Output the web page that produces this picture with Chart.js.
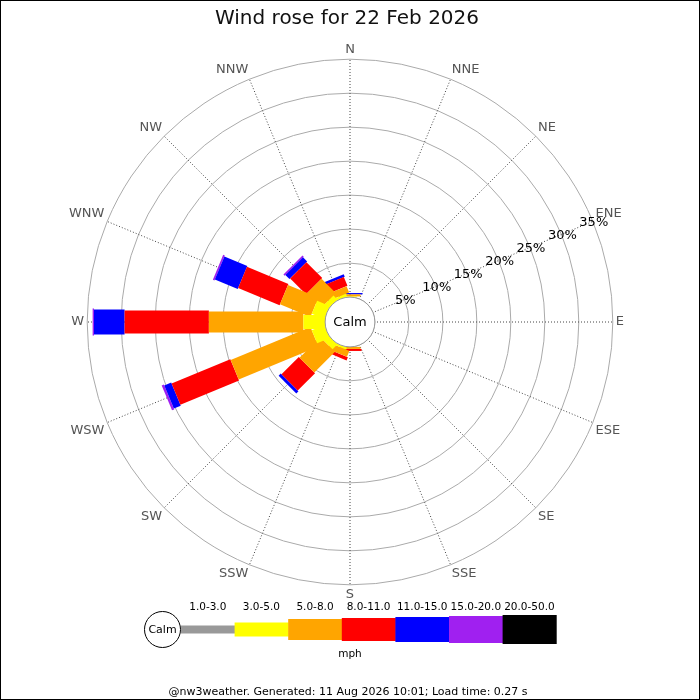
<!DOCTYPE html>
<html>
<head>
<meta charset="utf-8">
<script src="https://cdn.jsdelivr.net/npm/chart.js@4.4.1/dist/chart.umd.min.js"></script>
<style>
html,body{margin:0;padding:0;background:#fff;}
canvas{display:block;}
</style>
</head>
<body>
<canvas id="c" width="700" height="700"></canvas>
<script>
// ---- data ----
const directions = ['N','NNE','NE','ENE','E','ESE','SE','SSE','S','SSW','SW','WSW','W','WNW','NW','NNW'];
const speedClasses = ['1.0-3.0','3.0-5.0','5.0-8.0','8.0-11.0','11.0-15.0','15.0-20.0','20.0-50.0'];
// percentage of time per direction, per speed class (mph)
const speed1to3   = [0,0,0,0,0,0,0,0,0,0,0,0,0,0,0,0];
const speed3to5   = [0.1,0,0,0,0,0,0,0,0,0.3,1.0,2.0,3.2,2.0,0.8,0.4];
const speed5to8   = [0.3,0,0,0,0,0,0,0,0.3,0.95,4.3,12.7,13.9,4.85,3.0,1.0];
const speed8to11  = [0,0,0,0,0,0,0,0,0.3,0.5,3.6,9.35,12.4,6.6,3.3,1.4];
const speed11to15 = [0.2,0,0,0,0,0,0,0,0,0,0.45,1.1,4.5,3.65,0.85,0.4];
const speed15to20 = [0,0,0,0,0,0,0,0,0,0,0,0.35,0.2,0.25,0.25,0];
const speed20to50 = [0,0,0,0,0,0,0,0,0,0,0,0,0,0,0,0];
const radialTicks = [0,5,10,15,20,25,30,35];
const calmOffset = -3.661;   // axis minimum so the calm circle sits inside 0%
const axisMax = 35;

// ---- styles ----
const classColors = ['#999999','#ffff00','#ffa500','#ff0000','#0000ff','#a020f0','#000000'];
const classWidths = [8,14,21,23,25,27,29];
const FONT = "'DejaVu Sans', sans-serif";

const seriesList = [speed1to3,speed3to5,speed5to8,speed8to11,speed11to15,speed15to20,speed20to50];

const rosePlugin = {
  id: 'rose',
  afterDatasetsDraw(chart) {
    const s = chart.scales.r;
    const ctx = chart.ctx;
    const ds = chart.data.datasets;
    ctx.save();
    // stacked bar segments: outer classes first so inner ones sit on top near the centre
    for (let k = ds.length - 1; k >= 0; k--) {
      for (let i = 0; i < directions.length; i++) {
        if (!(ds[k].data[i] > 0)) continue;
        let prev = 0;
        for (let j = 0; j < k; j++) prev += ds[j].data[i];
        const cum = prev + ds[k].data[i];
        const p0 = s.getPointPosition(i, s.getDistanceFromCenterForValue(prev));
        const p1 = s.getPointPosition(i, s.getDistanceFromCenterForValue(cum));
        const a = s.getIndexAngle(i) - Math.PI / 2;
        const hw = classWidths[k] / 2;
        const nx = -Math.sin(a) * hw, ny = Math.cos(a) * hw;
        ctx.beginPath();
        ctx.moveTo(p0.x + nx, p0.y + ny);
        ctx.lineTo(p1.x + nx, p1.y + ny);
        ctx.lineTo(p1.x - nx, p1.y - ny);
        ctx.lineTo(p0.x - nx, p0.y - ny);
        ctx.closePath();
        ctx.fillStyle = classColors[k];
        ctx.fill();
      }
    }
    // calm circle
    const rc = s.getDistanceFromCenterForValue(0);
    ctx.beginPath();
    ctx.arc(s.xCenter, s.yCenter, rc, 0, Math.PI * 2);
    ctx.fillStyle = '#fff';
    ctx.fill();
    ctx.lineWidth = 1;
    ctx.strokeStyle = '#999';
    ctx.stroke();
    ctx.fillStyle = '#000';
    ctx.font = "13px " + FONT;
    ctx.textAlign = 'center';
    ctx.textBaseline = 'middle';
    ctx.fillText('Calm', s.xCenter, s.yCenter + 1);
    // radial tick labels along ENE
    const eneIndex = directions.indexOf('ENE');
    radialTicks.slice(1).forEach(v => {
      const p = s.getPointPosition(eneIndex, s.getDistanceFromCenterForValue(v));
      ctx.fillText(v + '%', p.x + 1, p.y + 1);
    });
    ctx.restore();
  },
  afterDraw(chart) {
    const ctx = chart.ctx;
    ctx.save();
    // legend
    const cy = 629.5;
    ctx.beginPath();
    ctx.arc(162.5, cy, 18, 0, Math.PI * 2);
    ctx.fillStyle = '#fff'; ctx.fill();
    ctx.strokeStyle = '#000'; ctx.lineWidth = 1; ctx.stroke();
    ctx.fillStyle = '#000';
    ctx.font = "11px " + FONT;
    ctx.textAlign = 'center'; ctx.textBaseline = 'middle';
    ctx.fillText('Calm', 162.5, cy + 1);
    const bw = 53.6, x0 = 181;
    speedClasses.forEach((lab, k) => {
      const x = x0 + k * bw;
      const h = classWidths[k];
      ctx.fillStyle = classColors[k];
      ctx.fillRect(x, cy - h / 2, bw + 0.5, h);
      ctx.fillStyle = '#000';
      ctx.font = "10.5px " + FONT;
      ctx.fillText(lab, x + bw / 2, 607);
    });
    ctx.font = "10.5px " + FONT;
    ctx.fillText('mph', 350, 654);
    ctx.font = "11px " + FONT;
    ctx.fillText('@nw3weather. Generated: 11 Aug 2026 10:01; Load time: 0.27 s', 348, 692);
    // frame
    ctx.strokeStyle = '#000';
    ctx.lineWidth = 1;
    ctx.strokeRect(0.5, 0.5, 699, 699);
    ctx.restore();
  }
};

new Chart(document.getElementById('c'), {
  type: 'radar',
  data: {
    labels: directions,
    datasets: seriesList.map((d, k) => ({
      label: speedClasses[k],
      data: d,
      borderWidth: 0,
      pointRadius: 0,
      pointHoverRadius: 0,
      backgroundColor: 'rgba(0,0,0,0)',
      borderColor: 'rgba(0,0,0,0)',
      fill: false
    }))
  },
  options: {
    responsive: false,
    devicePixelRatio: 1,
    animation: false,
    events: [],
    layout: { padding: { left: 66, right: 72, top: 0, bottom: 97 } },
    plugins: {
      legend: { display: false },
      tooltip: { enabled: false },
      title: {
        display: true,
        text: 'Wind rose for 22 Feb 2026',
        color: '#111',
        font: { family: FONT, size: 20, weight: 'normal', lineHeight: 1.2 },
        padding: { top: 7, bottom: 10 }
      }
    },
    scales: {
      r: {
        min: calmOffset,
        max: axisMax,
        afterBuildTicks: (sc) => { sc.ticks = radialTicks.map(v => ({ value: v })); },
        ticks: { display: false },
        grid: { circular: true, color: '#aaa', lineWidth: 1 },
        angleLines: { display: true, color: '#444', lineWidth: 1, borderDash: [1, 2] },
        pointLabels: {
          display: true,
          color: '#555',
          padding: 3,
          font: { family: FONT, size: 13, lineHeight: 1 }
        }
      }
    }
  },
  plugins: [rosePlugin]
});
</script>
</body>
</html>
